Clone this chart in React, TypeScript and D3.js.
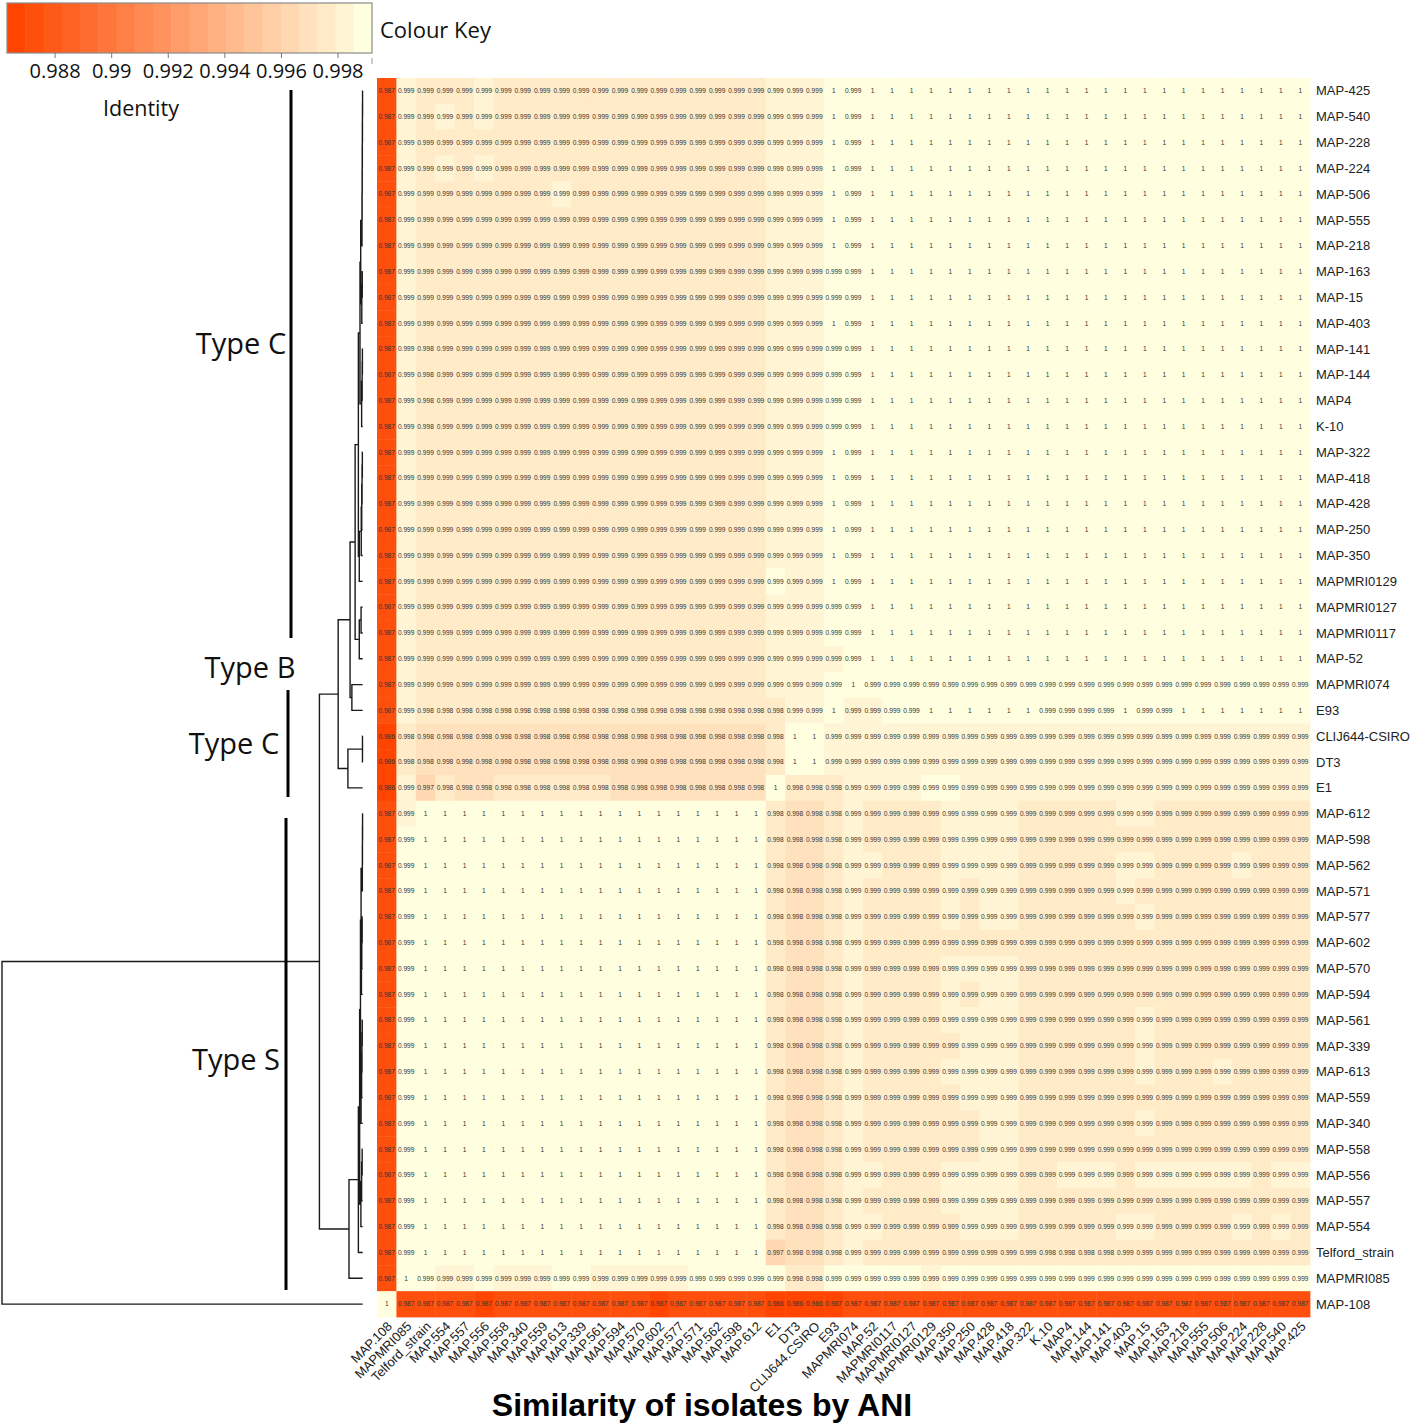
import React from "react";
import * as d3 from "d3";

// isolates, top to bottom (rows) and left to right (columns)
const rowLabels = [
  "MAP-425", "MAP-540", "MAP-228", "MAP-224", "MAP-506", "MAP-555", "MAP-218", "MAP-163",
  "MAP-15", "MAP-403", "MAP-141", "MAP-144", "MAP4", "K-10", "MAP-322", "MAP-418",
  "MAP-428", "MAP-250", "MAP-350", "MAPMRI0129", "MAPMRI0127", "MAPMRI0117", "MAP-52", "MAPMRI074",
  "E93", "CLIJ644-CSIRO", "DT3", "E1", "MAP-612", "MAP-598", "MAP-562", "MAP-571",
  "MAP-577", "MAP-602", "MAP-570", "MAP-594", "MAP-561", "MAP-339", "MAP-613", "MAP-559",
  "MAP-340", "MAP-558", "MAP-556", "MAP-557", "MAP-554", "Telford_strain", "MAPMRI085", "MAP-108",
];

const colLabels = [
  "MAP.108", "MAPMRI085", "Telford_strain", "MAP.554", "MAP.557", "MAP.556", "MAP.558", "MAP.340",
  "MAP.559", "MAP.613", "MAP.339", "MAP.561", "MAP.594", "MAP.570", "MAP.602", "MAP.577",
  "MAP.571", "MAP.562", "MAP.598", "MAP.612", "E1", "DT3", "CLIJ644.CSIRO", "E93",
  "MAPMRI074", "MAP.52", "MAPMRI0117", "MAPMRI0127", "MAPMRI0129", "MAP.350", "MAP.250", "MAP.428",
  "MAP.418", "MAP.322", "K.10", "MAP4", "MAP.144", "MAP.141", "MAP.403", "MAP.15",
  "MAP.163", "MAP.218", "MAP.555", "MAP.506", "MAP.224", "MAP.228", "MAP.540", "MAP.425",
];

const codeValue: Record<string, number> = {
  a: 0.9862, b: 0.9866, c: 0.9871, d: 0.9971, e: 0.9976,
  f: 0.9981, g: 0.99858, h: 0.999, i: 0.9994, j: 1,
};

const cellCodes = [
  "c|h|ggg hgg gggggg gggggg|hhh|j|i|jjjjj jjjjj jjjjj jjjjj jjj",
  "c|h|ghg hgg gggggg gggggg|hhh|j|i|jjjjj jjjjj jjjjj jjjjj jjj",
  "c|h|gggggg gggggg gggggg|hhh|j|i|jjjjj jjjjj jjjjj jjjjj jjj",
  "c|h|ghg hgg gggggg gggggg|hhh|j|i|jjjjj jjjjj jjjjj jjjjj jjj",
  "c|h|gggggg ghgggg gggggg|hhh|j|i|jjjjj jjjjj jjjjj jjjjj jjj",
  "c|h|gggggg gggggg gggggg|hhh|j|i|jjjjj jjjjj jjjjj jjjjj jjj",
  "c|h|gggggg gggggg gggggg|hhh|j|i|jjjjj jjjjj jjjjj jjjjj jjj",
  "c|h|gggggg gggggg gggggg|hhh|i|i|jjjjj jjjjj jjjjj jjjjj jjj",
  "c|h|gggggg gggggg gggggg|hhh|i|i|jjjjj jjjjj jjjjj jjjjj jjj",
  "c|h|gggggg gggggg gggggg|hhh|j|i|jjjjj jjjjj jjjjj jjjjj jjj",
  "c|h|fggggg gggggg gggggg|hhh|i|i|jjjjj jjjjj jjjjj jjjjj jjj",
  "c|h|fggggg gggggg gggggg|hhh|i|i|jjjjj jjjjj jjjjj jjjjj jjj",
  "c|h|fggggg gggggg gggggg|hhh|i|i|jjjjj jjjjj jjjjj jjjjj jjj",
  "c|h|fggggg gggggg gggggg|hhh|i|i|jjjjj jjjjj jjjjj jjjjj jjj",
  "c|h|gggggg gggggg gggggg|hhh|j|i|jjjjj jjjjj jjjjj jjjjj jjj",
  "c|h|gggggg gggggg gggggg|hhh|j|i|jjjjj jjjjj jjjjj jjjjj jjj",
  "c|h|gggggg gggggg gggggg|hhh|j|i|jjjjj jjjjj jjjjj jjjjj jjj",
  "c|h|gggggg gggggg gggggg|hhh|j|i|jjjjj jjjjj jjjjj jjjjj jjj",
  "c|h|gggggg gggggg gggggg|hhh|j|i|jjjjj jjjjj jjjjj jjjjj jjj",
  "c|h|gggggg gggggg gggggg|ihh|j|i|jjjjj jjjjj jjjjj jjjjj jjj",
  "c|h|gggggg gggggg gggggg|hhh|i|i|jjjjj jjjjj jjjjj jjjjj jjj",
  "c|h|gggggg gggggg gggggg|hhh|i|i|jjjjj jjjjj jjjjj jjjjj jjj",
  "c|h|gggggg gggggg gggggg|hhh|h|i|jjjjj jjjjj jjjjj jjjjj jjj",
  "c|h|gggggg gggggg gggggg|hhh|i|j|iiiii iiiii iiiii iiiii iii",
  "c|h|ffffff ffffff ffffff|fhh|j|h|h ii jjjjjj iiii j ii jjjjjjj",
  "a|f|eeeeee eeeeee eeeeee|fjj|h|h|hhhhh hhhhh hhhhh hhhhh hhh",
  "a|f|eeeeee eeeeee eeeeee|fjj|h|h|hhhhh hhhhh hhhhh hhhhh hhh",
  "a|h|d f ee ffffff eeeeeeee|jff|f|h|hhh ii hhhhhh hhhhhh hhhhhh",
  "c|h|jjjjjj jjjjjj jjjjjj|fee|f|h|gggg hhhh ggggg hh gggggggg",
  "c|i|jjjjjj jjjjjj jjjjjj|fee|f|h|gggg hhhh ggggg gg gggggggg",
  "c|i|jjjjjj jjjjjj jjjjjj|fee|f|h|hggg hhhh ggggg hh gggghggg",
  "c|i|jjjjjj jjjjjj jjjjjj|fee|f|h|gggg hghh ggggg hg gggggggg",
  "c|i|jjjjjj jjjjjj jjjjjj|fee|f|h|gggg hghh ggggg gh gggggggg",
  "c|i|jjjjjj jjjjjj jjjjjj|fee|f|h|gggg gggg ggggg gg gggggggg",
  "c|i|jjjjjj jjjjjj jjjjjj|fee|f|h|gggg hhhh ggggg gg gggggggg",
  "c|i|jjjjjj jjjjjj jjjjjj|fee|f|h|gggg hghh ggggg gg gggggggg",
  "c|i|jjjjjj jjjjjj jjjjjj|fee|f|h|gggg hhhh ggggg gh gggggggg",
  "c|i|jjjjjj jjjjjj jjjjjj|fee|f|h|gggg ghhh ggggg gh gggggggg",
  "c|i|jjjjjj jjjjjj jjjjjj|fee|f|h|gggg hhhh ggggg gh ggghgggg",
  "c|i|jjjjjj jjjjjj jjjjjj|fee|f|h|gggg ghhh ggggg gg gggggggg",
  "c|i|jjjjjj jjjjjj jjjjjj|fee|f|h|gggg gghh ggggg gh gggggggg",
  "c|i|jjjjjj jjjjjj jjjjjj|fee|f|h|gggg gghh ggggg gg gggggggg",
  "c|i|jjjjjj jjjjjj jjjjjj|fee|f|h|hggg hhhh gghhh gh hhhhhghh",
  "c|i|jjjjjj jjjjjj jjjjjj|fee|f|h|gggg hhhh ggggg gg gggggggg",
  "c|i|jjjjjj jjjjjj jjjjjj|fee|f|h|hggg ghhh ggggg hh gggghghg",
  "c|i|jjjjjj jjjjjj jjjjjj|dee|f|h|ggggggggg ffff gggggggggg",
  "c|j|i hh i hhh ii hhhhh iiii|iff|i|i|iii h iiiii iiiii iiiii iiii",
  "j|c|ccc b cccccccc b ccccc|aaa|b|c|ccccc ccccc ccccc ccccc ccc",
];

// hierarchical clustering: [left, right, height]; a number points to an earlier merge (1-based)
const merges: [string | number, string | number, number][] = [
  ["MAP-425", "MAP-540", 0.0004], [1, "MAP-228", 0.0007], [2, "MAP-224", 0.001],
  [3, "MAP-506", 0.0013], [4, "MAP-555", 0.0016], [5, "MAP-218", 0.002],
  ["MAP-163", "MAP-15", 0.0012], [7, "MAP-403", 0.0025], [6, 8, 0.0055],
  ["MAP-141", "MAP-144", 0.0008], [10, "MAP4", 0.0015], [11, "K-10", 0.003],
  [9, 12, 0.0075], ["MAP-322", "MAP-418", 0.001], [14, "MAP-428", 0.0018],
  [15, "MAP-250", 0.0027], [16, "MAP-350", 0.004], [17, "MAPMRI0129", 0.0095],
  [13, 18, 0.012], ["MAPMRI0127", "MAPMRI0117", 0.0045], [20, "MAP-52", 0.0095],
  [19, 21, 0.021], ["MAPMRI074", "E93", 0.03], [22, 23, 0.035],
  ["CLIJ644-CSIRO", "DT3", 0.0006], [25, "E1", 0.041], [24, 26, 0.068],
  ["MAP-612", "MAP-598", 0.0004], [28, "MAP-562", 0.0007], [29, "MAP-571", 0.001],
  ["MAP-577", "MAP-602", 0.0015], [31, "MAP-570", 0.0025], [32, "MAP-594", 0.0035],
  [30, 33, 0.0045], ["MAP-561", "MAP-339", 0.0012], [35, "MAP-613", 0.002],
  [36, "MAP-559", 0.003], [37, "MAP-340", 0.0045], [34, 38, 0.0062],
  ["MAP-558", "MAP-556", 0.0015], [40, "MAP-557", 0.003], [41, "MAP-554", 0.005],
  [39, 42, 0.0085], [43, "Telford_strain", 0.012], [44, "MAPMRI085", 0.038],
  [27, 45, 0.12], [46, "MAP-108", 1.0],
];

const keyTicks = [0.988, 0.99, 0.992, 0.994, 0.996, 0.998];
const colorDomain: [number, number] = [0.9861, 1];
const keyAxisDomain: [number, number] = [0.9863, 0.9992];
const nBins = 20;

const cellFont = "'Liberation Sans', Arial, sans-serif";
const uiFont = "'Open Sans', 'Noto Sans', sans-serif";

export default function App() {
  const W = 1418;
  const H = 1424;
  const hm = { left: 377, right: 1310, top: 78, bottom: 1317 };

  const x = d3.scaleBand().domain(colLabels).range([hm.left, hm.right]);
  const y = d3.scaleBand().domain(rowLabels).range([hm.top, hm.bottom]);
  const palette = d3.quantize(d3.interpolateRgb("#FF4500", "#FFFFE0"), nBins);
  const color = d3.scaleQuantize<string>().domain(colorDomain).range(palette);
  const keyX = d3.scaleLinear().domain(keyAxisDomain).range([7, 372]);
  const dendX = d3.scaleLinear().domain([0, 1]).range([362.7, 2]);

  const matrix = cellCodes.map((s) =>
    s.replace(/[\s|]/g, "").split("").map((ch) => codeValue[ch])
  );
  const fmt = (v: number) => String(+v.toFixed(3));

  // dendrogram segments
  const rowY = (name: string) => (y(name) ?? 0) + y.bandwidth() / 2;
  const nodes: { x: number; y: number }[] = [];
  let dPath = "";
  merges.forEach(([l, r, h]) => {
    const px = dendX(h);
    const get = (k: string | number) =>
      typeof k === "string" ? { x: dendX(0), y: rowY(k) } : nodes[k - 1];
    const a = get(l);
    const b = get(r);
    dPath += `M${a.x},${a.y}H${px}V${b.y}H${b.x}`;
    nodes.push({ x: px, y: (a.y + b.y) / 2 });
  });

  const binW = (keyAxisDomain[1] - keyAxisDomain[0]) / nBins;

  return (
    <svg
      width={W}
      height={H}
      style={{ position: "absolute", left: 0, top: 0, background: "#fff" }}
    >
      {/* colour key */}
      <g>
        {palette.map((c, i) => (
          <rect
            key={i}
            x={keyX(keyAxisDomain[0] + i * binW)}
            y={3}
            width={keyX(keyAxisDomain[0] + (i + 1) * binW) - keyX(keyAxisDomain[0] + i * binW) + 0.5}
            height={50}
            fill={c}
          />
        ))}
        <rect x={7} y={3} width={365} height={50} fill="none" stroke="#8a8a8a" strokeWidth={1.2} />
        {keyTicks.map((t) => (
          <g key={t}>
            <line x1={keyX(t)} x2={keyX(t)} y1={53} y2={58} stroke="#777" />
            <text
              x={keyX(t)}
              y={78}
              textAnchor="middle"
              fontFamily={uiFont}
              fontSize={20}
              fill="#111"
            >
              {fmt(t)}
            </text>
          </g>
        ))}
        <line x1={372} x2={372} y1={58} y2={64} stroke="#999" />
        <text x={380} y={38} fontFamily={uiFont} fontSize={22} fill="#111">
          Colour Key
        </text>
        <text x={141} y={116} textAnchor="middle" fontFamily={uiFont} fontSize={21.5} fill="#111">
          Identity
        </text>
      </g>

      {/* heatmap cells */}
      <g>
        {matrix.map((row, ri) =>
          row.map((v, ci) => (
            <rect
              key={`${ri}-${ci}`}
              x={x(colLabels[ci])}
              y={y(rowLabels[ri])}
              width={x.bandwidth() + 0.4}
              height={y.bandwidth() + 0.4}
              fill={color(v)}
            />
          ))
        )}
      </g>
      <g fontFamily={cellFont} fontSize={6.6} fill="#333" textAnchor="middle">
        {matrix.map((row, ri) =>
          row.map((v, ci) => (
            <text
              key={`${ri}-${ci}`}
              x={(x(colLabels[ci]) ?? 0) + x.bandwidth() / 2}
              y={rowY(rowLabels[ri])}
              dy="0.35em"
            >
              {fmt(v)}
            </text>
          ))
        )}
      </g>

      {/* row labels */}
      <g fontFamily={cellFont} fontSize={13} fill="#222">
        {rowLabels.map((r) => (
          <text key={r} x={1316} y={rowY(r)} dy="0.35em">
            {r}
          </text>
        ))}
      </g>

      {/* column labels */}
      <g fontFamily={cellFont} fontSize={13} fill="#222" textAnchor="end">
        {colLabels.map((c) => {
          const cx = (x(c) ?? 0) + x.bandwidth() / 2 + 3;
          return (
            <text key={c} transform={`translate(${cx},${1324}) rotate(-45)`} dy="0.35em">
              {c}
            </text>
          );
        })}
      </g>

      {/* dendrogram */}
      <path d={dPath} fill="none" stroke="#1a1a1a" strokeWidth={1.4} />

      {/* type annotations */}
      <g stroke="#000" strokeWidth={3}>
        <line x1={291} x2={291} y1={90} y2={638} />
        <line x1={288} x2={288} y1={690} y2={797} />
        <line x1={286} x2={286} y1={818} y2={1290} />
      </g>
      <g fontFamily={uiFont} fontSize={29} fill="#111" textAnchor="middle">
        <text x={241} y={344} dy="0.35em">Type C</text>
        <text x={250} y={668} dy="0.35em">Type B</text>
        <text x={234} y={744} dy="0.35em">Type C</text>
        <text x={236} y={1060} dy="0.35em">Type S</text>
      </g>

      <text
        x={702}
        y={1416}
        textAnchor="middle"
        fontFamily={cellFont}
        fontWeight="bold"
        fontSize={32}
        fill="#000"
      >
        Similarity of isolates by ANI
      </text>
    </svg>
  );
}
